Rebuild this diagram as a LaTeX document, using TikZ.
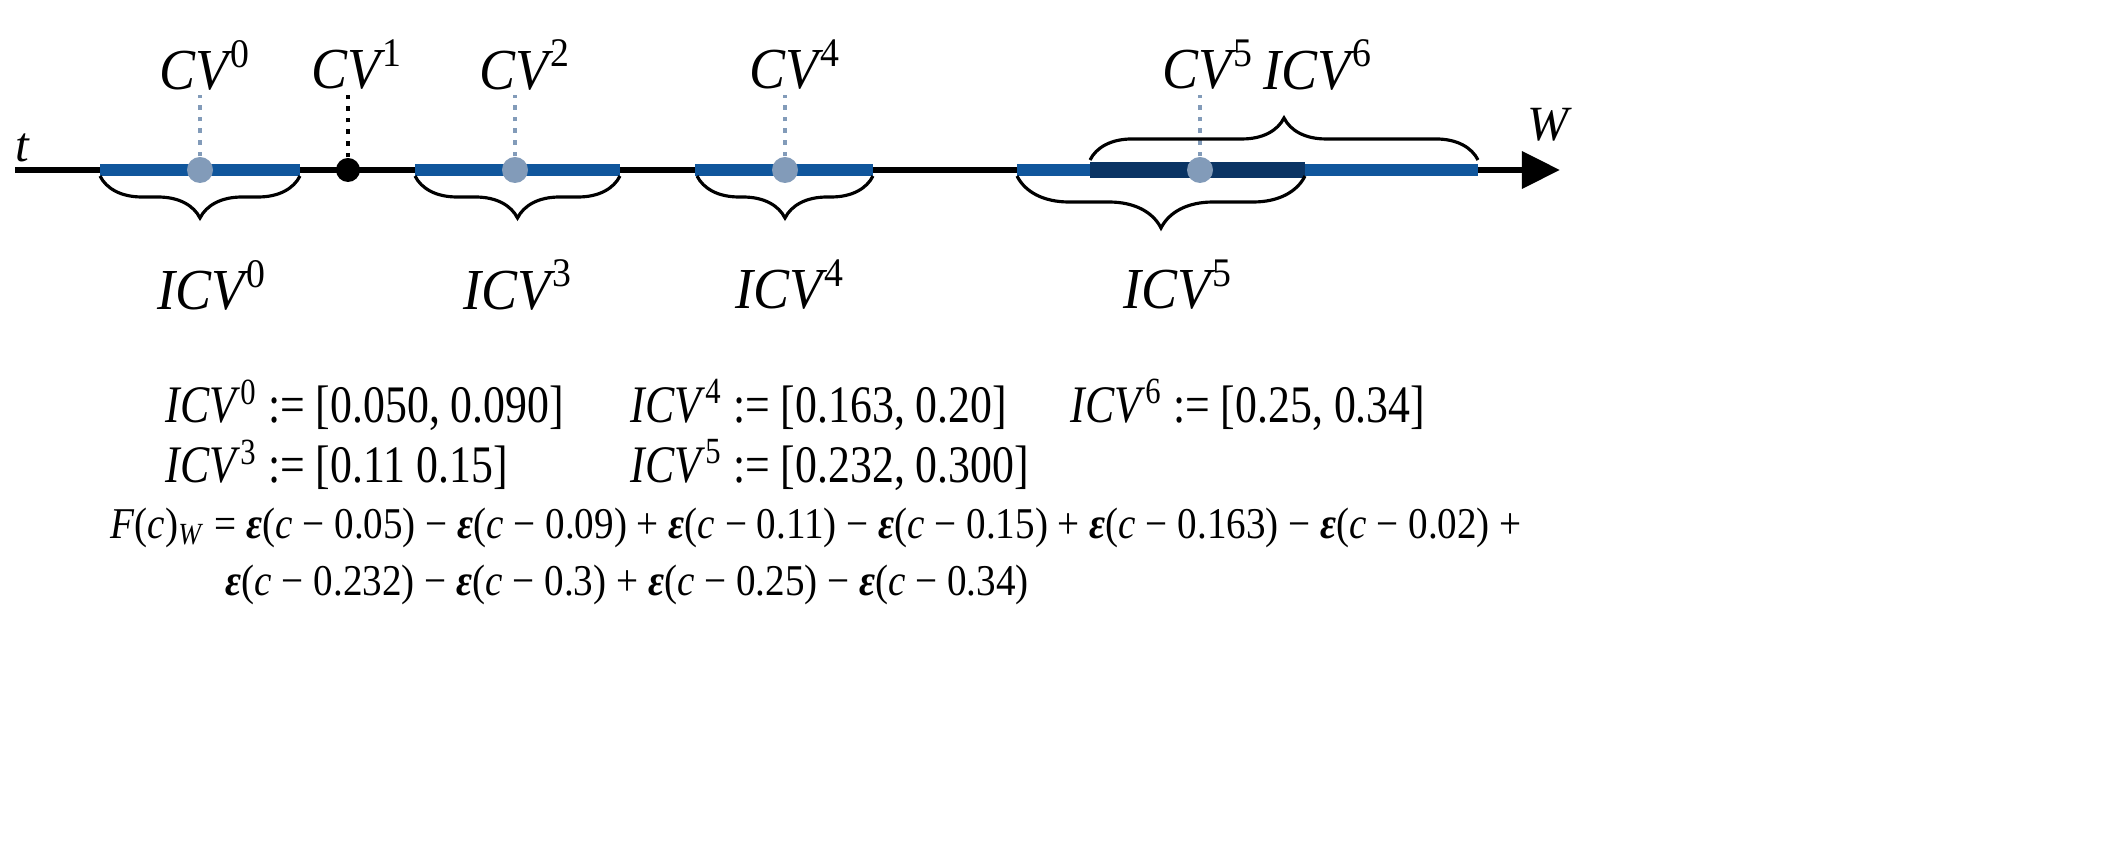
\documentclass[tikz,border=0pt]{standalone}
\usepackage{fontspec}
\usepackage{graphicx}
\setmainfont{Liberation Serif}
\usetikzlibrary{decorations.pathreplacing,arrows.meta}
\definecolor{segblue}{RGB}{16,86,156}
\definecolor{segdark}{RGB}{10,52,100}
\definecolor{ptgray}{RGB}{130,155,185}
\tikzset{
 px/.style={x=0.01cm,y=-0.01cm},
 seg/.style={segblue,line width=3.6pt},
 dots/.style={ptgray,dotted,line width=1.3pt},
 pt/.style={circle,fill=ptgray,inner sep=0pt,minimum size=0.26cm},
 lbl/.style={font=\fontsize{16.5}{18}\selectfont,inner sep=0pt},
 brc/.style={decorate,decoration={brace,amplitude=0.42cm},line width=0.9pt},
 eq/.style={font=\fontsize{15}{17}\selectfont,anchor=west,inner sep=0pt},
}
\newcommand{\cvl}[2]{\scalebox{0.93}[1]{\textit{#1}\kern-1pt\textsuperscript{#2}}}
\newcommand{\sx}[2]{\scalebox{#1}[1]{#2}}
\newcommand{\ep}{\textbf{\textit{ε}}}
\begin{document}
\begin{tikzpicture}[px]
\useasboundingbox (0,0) rectangle (2121,862);
\coordinate (a0) at (15,170); \coordinate (a1) at (1560,170);
\draw[line width=1.9pt,-{Triangle[length=0.38cm,width=0.36cm]}] (a0) -- (a1);
\node[lbl,font=\fontsize{14}{14}\selectfont\itshape] (t) at (22,148) {t};
\node[lbl,font=\fontsize{14}{14}\selectfont\itshape] (w) at (1548,125) {W};
\draw[seg] (100,170) -- (300,170);
\draw[seg] (415,170) -- (620,170);
\draw[seg] (695,170) -- (873,170);
\draw[seg] (1017,170) -- (1478,170);
\draw[segdark,line width=4.3pt] (1090,170) -- (1305,170);
\foreach \n/\x in {c0/200,c2/515,c4/785,c5/1200}{
 \node[pt] (p\n) at (\x,170) {};
 \coordinate (q\n) at (\x,95);
 \draw[dots] (p\n) -- (q\n);
}
\node[circle,fill=black,inner sep=0pt,minimum size=0.24cm] (pc1) at (348,170) {};
\coordinate (qc1) at (348,95);
\draw[black,dotted,line width=1.3pt] (pc1) -- (qc1);
\node[lbl] (l0) at (205,65) {\cvl{CV}{0}};
\node[lbl] (l1) at (357,65) {\cvl{CV}{1}};
\node[lbl] (l2) at (525,65) {\cvl{CV}{2}};
\node[lbl] (l4) at (795,65) {\cvl{CV}{4}};
\node[lbl] (l5) at (1208,65) {\cvl{CV}{5}};
\node[lbl] (l6) at (1318,65) {\cvl{ICV}{6}};
\draw[brc] (300,176) -- (100,176);
\draw[brc] (620,176) -- (415,176);
\draw[brc] (873,176) -- (697,176);
\draw[brc,decoration={amplitude=0.52cm}] (1305,176) -- (1017,176);
\draw[brc] (1090,160) -- (1478,160);
\node[lbl] (i0) at (212,285) {\cvl{ICV}{0}};
\node[lbl] (i3) at (518,285) {\cvl{ICV}{3}};
\node[lbl] (i4) at (790,285) {\cvl{ICV}{4}};
\node[lbl] (i5) at (1178,285) {\cvl{ICV}{5}};
\node[eq] (e0) at (165,405) {\sx{0.83}{\textit{ICV}\textsuperscript{0} := [0.050, 0.090]}};
\node[eq] (e4) at (630,405) {\sx{0.83}{\textit{ICV}\textsuperscript{4} := [0.163, 0.20]}};
\node[eq] (e6) at (1070,405) {\sx{0.83}{\textit{ICV}\textsuperscript{6} := [0.25, 0.34]}};
\node[eq] (e3) at (165,465) {\sx{0.83}{\textit{ICV}\textsuperscript{3} := [0.11 0.15]}};
\node[eq] (e5) at (630,465) {\sx{0.83}{\textit{ICV}\textsuperscript{5} := [0.232, 0.300]}};
\node[eq,font=\fontsize{12.5}{15}\selectfont] (f1) at (110,528) {\sx{0.89}{\textit{F}(\textit{c})\textsubscript{\textit{W}} = \ep(\textit{c} − 0.05) − \ep(\textit{c} − 0.09) + \ep(\textit{c} − 0.11) − \ep(\textit{c} − 0.15) + \ep(\textit{c} − 0.163) − \ep(\textit{c} − 0.02) +}};
\node[eq,font=\fontsize{12.5}{15}\selectfont] (f2) at (225,585) {\sx{0.89}{\ep(\textit{c} − 0.232) − \ep(\textit{c} − 0.3) + \ep(\textit{c} − 0.25) − \ep(\textit{c} − 0.34)}};
\end{tikzpicture}
\end{document}
